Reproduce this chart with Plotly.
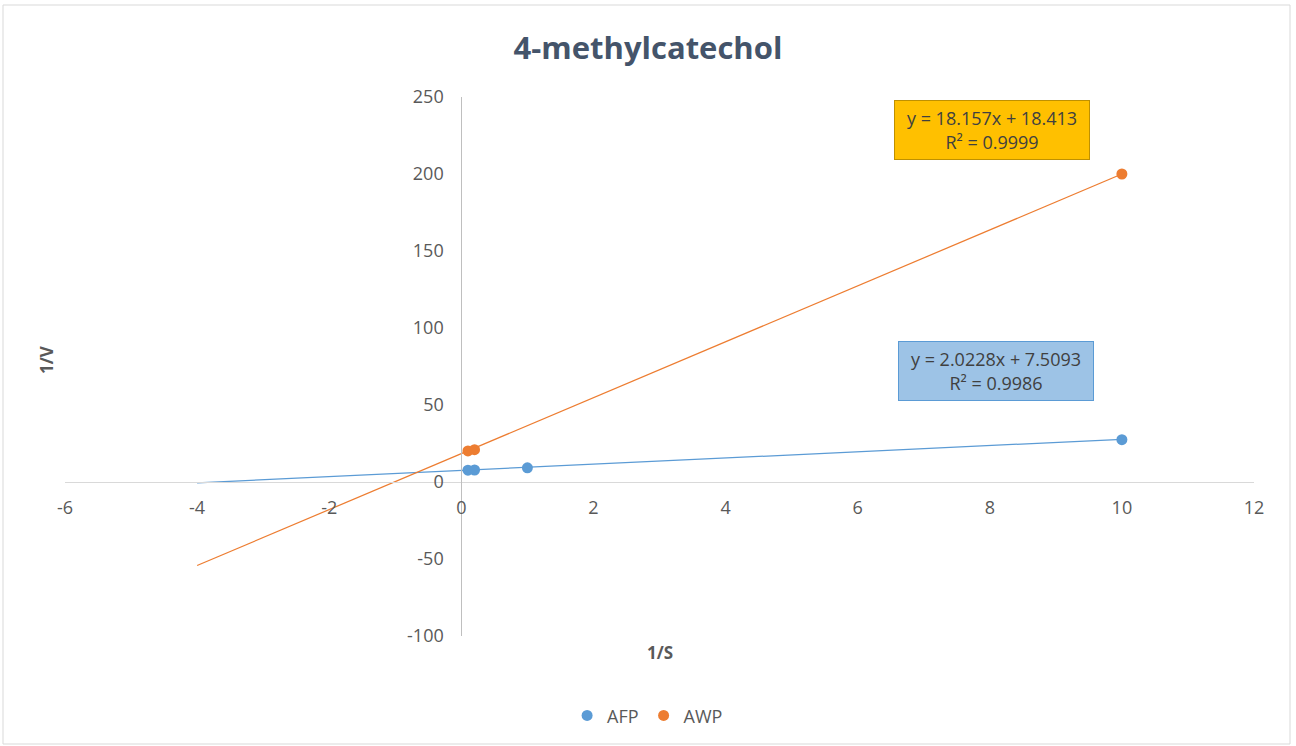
import plotly.graph_objects as go

# Lineweaver-Burk data for 4-methylcatechol
afp_x = [0.1, 0.2, 1, 10]
afp_y = [7.7, 7.8, 9.2, 27.5]
awp_x = [0.1, 0.2, 10]
awp_y = [20.2, 21.0, 200.0]

# Linear trendlines (slope, intercept, R²), extended back to x = -4
afp_fit = (2.0228, 7.5093, 0.9986)
awp_fit = (18.157, 18.413, 0.9999)
trend_x = [-4, 10]

x_ticks = [-6, -4, -2, 0, 2, 4, 6, 8, 10, 12]
y_ticks = [-100, -50, 0, 50, 100, 150, 200, 250]

AFP_COLOR = "#5B9BD5"
AWP_COLOR = "#ED7D31"
TEXT = "#595959"
FONT = "Open Sans"

fig = go.Figure()

for (m, b, _), color, name in [(afp_fit, AFP_COLOR, "AFP"), (awp_fit, AWP_COLOR, "AWP")]:
    fig.add_trace(go.Scatter(
        x=trend_x, y=[m * v + b for v in trend_x], mode="lines",
        line=dict(color=color, width=1.25), showlegend=False, hoverinfo="skip",
        name=name + " trend"))

fig.add_trace(go.Scatter(x=afp_x, y=afp_y, mode="markers", name="AFP",
                         marker=dict(color=AFP_COLOR, size=11)))
fig.add_trace(go.Scatter(x=awp_x, y=awp_y, mode="markers", name="AWP",
                         marker=dict(color=AWP_COLOR, size=11)))

x_min, x_max = x_ticks[0], x_ticks[-1]
y_min, y_max = y_ticks[0], y_ticks[-1]

fig.update_layout(
    width=1296, height=746,
    margin=dict(l=65, r=42, t=97, b=110),
    paper_bgcolor="white", plot_bgcolor="white",
    font=dict(family=FONT, color=TEXT, size=18),
    title=dict(text="<b>4-methylcatechol</b>", x=0.5, xanchor="center",
               y=1 - 48 / 746, yanchor="middle",
               font=dict(size=31, color="#44546A", family=FONT)),
    xaxis=dict(range=[x_min, x_max], tickvals=x_ticks,
               ticktext=[str(v) for v in x_ticks],
               showgrid=False, zeroline=False,
               showline=True, linecolor="#D9D9D9", linewidth=1,
               anchor="free", position=(0 - y_min) / (y_max - y_min),
               ticks="outside", ticklen=9, tickcolor="rgba(0,0,0,0)",
               tickfont=dict(size=18, color=TEXT)),
    yaxis=dict(range=[y_min, y_max], tickvals=y_ticks,
               ticktext=[str(v) for v in y_ticks],
               showgrid=False, zeroline=False,
               showline=True, linecolor="#BFBFBF", linewidth=1,
               anchor="free", position=(0 - x_min) / (x_max - x_min),
               ticks="outside", ticklen=14, tickcolor="rgba(0,0,0,0)",
               tickfont=dict(size=18, color=TEXT)),
    legend=dict(orientation="h", x=0.49, xanchor="center", y=-0.148, yanchor="middle",
                font=dict(size=18, color=TEXT), itemwidth=30, traceorder="normal"),
    showlegend=True,
)

# Axis titles
fig.add_annotation(text="<b>1/S</b>", xref="paper", yref="paper",
                   x=(660 - 65) / 1189, y=(636 - 652) / 539,
                   xanchor="center", yanchor="middle",
                   showarrow=False, font=dict(size=17, color=TEXT))
fig.add_annotation(text="<b>1/V</b>", xref="paper", yref="paper",
                   x=(46 - 65) / 1189, y=(636 - 360) / 539, textangle=-90,
                   xanchor="center", yanchor="middle",
                   showarrow=False, font=dict(size=17, color=TEXT))

# Trendline equation labels
def eq_text(fit):
    m, b, r2 = fit
    return f"y = {m:g}x + {b:g}<br>R² = {r2:g}"

fig.add_annotation(text=eq_text(awp_fit), x=8.03, y=228.6, showarrow=False,
                   bgcolor="#FFC000", bordercolor="#BF9000", borderwidth=1,
                   width=182, height=46, borderpad=6,
                   font=dict(size=18, color="#404040"))
fig.add_annotation(text=eq_text(afp_fit), x=8.09, y=72.1, showarrow=False,
                   bgcolor="#9DC3E6", bordercolor="#5B9BD5", borderwidth=1,
                   width=182, height=46, borderpad=6,
                   font=dict(size=18, color="#404040"))

# Chart area border
fig.add_shape(type="rect", xref="paper", yref="paper",
              x0=(3 - 65) / 1189, x1=(1290 - 65) / 1189,
              y0=(636 - 744) / 539, y1=(636 - 5) / 539,
              line=dict(color="#D9D9D9", width=1), fillcolor="rgba(0,0,0,0)", layer="below")

fig.write_html("out.html")
